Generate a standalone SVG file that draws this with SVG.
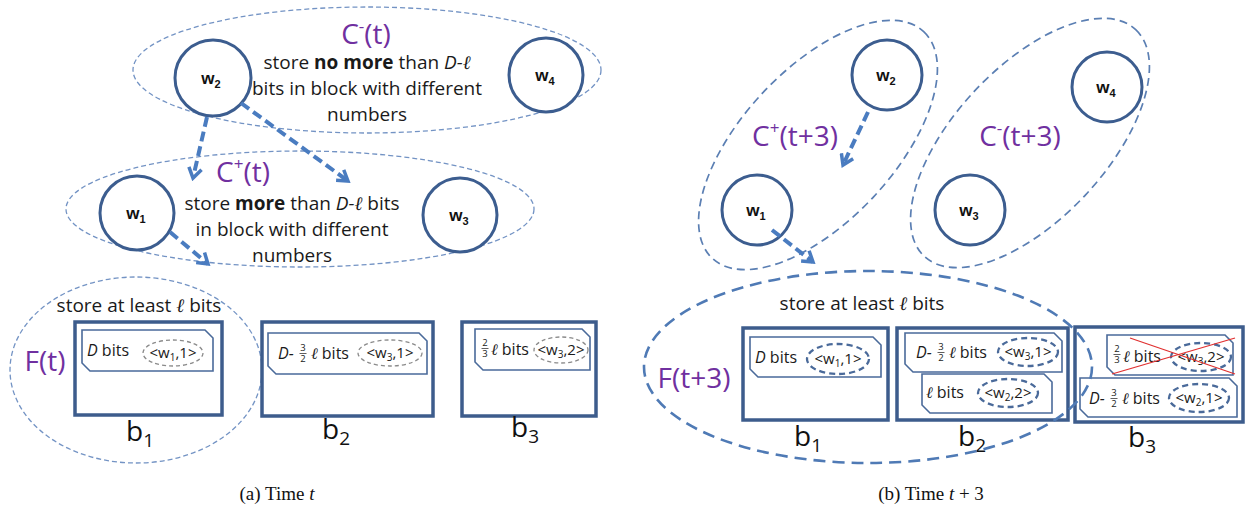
<svg xmlns="http://www.w3.org/2000/svg" width="1252" height="515" viewBox="0 0 1252 515">
  <defs>
    <style>
      .bg { fill: #ffffff; }
      .grp { fill: none; stroke: #7393c4; stroke-width: 1.3; stroke-dasharray: 5 3; }
      .grpR { fill: none; stroke: #5b7fb3; stroke-width: 1.7; stroke-dasharray: 8 5; }
      .grpF { fill: none; stroke: #4f7ab5; stroke-width: 2.6; stroke-dasharray: 12 7; }
      .node circle { fill: #ffffff; stroke: #3c5d8f; stroke-width: 3; }
      .nl { font-family: "Liberation Sans", Arial, sans-serif; font-weight: bold; font-size: 17px; fill: #111; text-anchor: middle; }
      .sub { font-size: 11px; }
      .pl { font-family: "Open Sans", "Liberation Sans", sans-serif; font-size: 28px; fill: #7030a0; text-anchor: middle; }
      .body { font-family: "Open Sans", "Liberation Sans", sans-serif; font-size: 19px; fill: #1a1a1a; text-anchor: middle; }
      .it { font-style: italic; }
      .ell { font-family: "Liberation Serif", "DejaVu Serif", serif; font-style: italic; }
      .block { fill: none; stroke: #3d5c8c; stroke-width: 3.5; }
      .tag { fill: #ffffff; stroke: #4a6a9a; stroke-width: 1.6; }
      .tg { font-family: "Open Sans", "Liberation Sans", sans-serif; font-size: 16px; fill: #1a1a1a; }
      .tgc { font-family: "Open Sans", "Liberation Sans", sans-serif; font-size: 15px; fill: #1a1a1a; text-anchor: middle; }
      .fn { font-family: "Open Sans", "Liberation Sans", sans-serif; font-size: 9.5px; fill: #1a1a1a; text-anchor: middle; }
      .fbar { stroke: #1a1a1a; stroke-width: 0.7; }
      .id { fill: none; stroke: #8a8a8a; stroke-width: 1.3; stroke-dasharray: 4 3; }
      .idR { fill: none; stroke: #4a6a9a; stroke-width: 2.3; stroke-dasharray: 6 4; }
      .bl { font-family: "Open Sans", "Liberation Sans", sans-serif; font-size: 28px; fill: #111; text-anchor: middle; }
      .bsub { font-size: 19px; }
      .cap { font-family: "Liberation Serif", "DejaVu Serif", serif; font-size: 19px; fill: #111; text-anchor: middle; }
      .conn path { fill: none; stroke: #4a7cc0; stroke-width: 4; stroke-dasharray: 10 5; }
      .cross { stroke: #e03030; stroke-width: 1.3; }
    </style>
    <marker id="vhead" viewBox="0 0 16 16" refX="13" refY="8" markerWidth="16" markerHeight="16" orient="auto" markerUnits="userSpaceOnUse">
      <polyline points="3,1.5 13,8 3,14.5" fill="none" stroke="#4a7cc0" stroke-width="3.5"/>
    </marker>
  </defs>

  <rect class="bg" x="0" y="0" width="1252" height="515"/>

  <!-- ===== panel (a): time t ===== -->
  <g id="group-cminus-t">
    <ellipse class="grp" cx="367" cy="70" rx="234" ry="63"/>
    <text class="pl" x="366" y="44">C<tspan font-size="17" dy="-12">-</tspan><tspan dy="12">(t)</tspan></text>
    <text class="body" x="367" y="69">store <tspan font-weight="bold">no more</tspan> than <tspan class="it">D-</tspan><tspan class="ell">ℓ</tspan></text>
    <text class="body" x="367" y="95">bits in block with different</text>
    <text class="body" x="367" y="121">numbers</text>
  </g>

  <g id="group-cplus-t">
    <ellipse class="grp" cx="300" cy="209" rx="234" ry="58"/>
    <text class="pl" x="243" y="182">C<tspan font-size="17" dy="-12">+</tspan><tspan dy="12">(t)</tspan></text>
    <text class="body" x="292" y="210">store <tspan font-weight="bold">more</tspan> than <tspan class="it">D-</tspan><tspan class="ell">ℓ</tspan> bits</text>
    <text class="body" x="292" y="236">in block with different</text>
    <text class="body" x="292" y="262">numbers</text>
  </g>

  <g id="group-f-t">
    <ellipse class="grp" cx="136" cy="370" rx="126" ry="93"/>
    <text class="body" x="139" y="312">store at least <tspan class="ell">ℓ</tspan> bits</text>
    <text class="pl" x="45" y="371">F(t)</text>
  </g>

  <g id="node-w2-a" class="node">
    <circle cx="213" cy="78" r="38"/>
    <text class="nl" x="211" y="84">w<tspan class="sub" dy="4">2</tspan></text>
  </g>
  <g id="node-w4-a" class="node">
    <circle cx="546" cy="75" r="37"/>
    <text class="nl" x="545" y="81">w<tspan class="sub" dy="4">4</tspan></text>
  </g>
  <g id="node-w1-a" class="node">
    <circle cx="137" cy="213" r="37"/>
    <text class="nl" x="136" y="219">w<tspan class="sub" dy="4">1</tspan></text>
  </g>
  <g id="node-w3-a" class="node">
    <circle cx="460" cy="215" r="37"/>
    <text class="nl" x="459" y="221">w<tspan class="sub" dy="4">3</tspan></text>
  </g>

  <!-- blocks at time t -->
  <g id="block-b1-a">
    <rect class="block" x="75" y="322" width="147" height="93"/>
    <polygon class="tag" points="82,330 205,330 213,338 213,371 90,371 82,363"/>
    <text class="tg" x="87" y="356"><tspan class="it">D</tspan> bits</text>
    <ellipse class="id" cx="173" cy="353" rx="30" ry="13"/>
    <text class="tgc" x="173" y="358">&lt;w<tspan font-size="10" dy="3">1</tspan><tspan dy="-3">,1&gt;</tspan></text>
    <text class="bl" x="140" y="441">b<tspan class="bsub" dy="6">1</tspan></text>
  </g>

  <g id="block-b2-a">
    <rect class="block" x="262" y="322" width="171" height="94"/>
    <polygon class="tag" points="268,333 419,333 427,341 427,374 276,374 268,366"/>
    <text class="tg it" x="278" y="359">D-</text>
    <text class="fn" x="303" y="351">3</text>
    <line class="fbar" x1="299.5" y1="353.5" x2="306.5" y2="353.5"/>
    <text class="fn" x="303" y="362">2</text>
    <text class="tg" x="311" y="359"><tspan class="ell">ℓ</tspan> bits</text>
    <ellipse class="id" cx="390" cy="353" rx="32" ry="13"/>
    <text class="tgc" x="390" y="358">&lt;w<tspan font-size="10" dy="3">3</tspan><tspan dy="-3">,1&gt;</tspan></text>
    <text class="bl" x="336" y="439">b<tspan class="bsub" dy="6">2</tspan></text>
  </g>

  <g id="block-b3-a">
    <rect class="block" x="462" y="322" width="134" height="94"/>
    <polygon class="tag" points="475,329 582,329 590,337 590,370 483,370 475,362"/>
    <text class="fn" x="485" y="346">2</text>
    <line class="fbar" x1="481.5" y1="348.5" x2="488.5" y2="348.5"/>
    <text class="fn" x="485" y="357">3</text>
    <text class="tg" x="491" y="355"><tspan class="ell">ℓ</tspan> bits</text>
    <ellipse class="id" cx="561" cy="350" rx="27" ry="13"/>
    <text class="tgc" x="561" y="355">&lt;w<tspan font-size="10" dy="3">3</tspan><tspan dy="-3">,2&gt;</tspan></text>
    <text class="bl" x="525" y="437">b<tspan class="bsub" dy="6">3</tspan></text>
  </g>

  <!-- ===== panel (b): time t+3 ===== -->
  <g id="group-cplus-t3">
    <ellipse class="grpR" cx="818" cy="145" rx="155" ry="76" transform="rotate(-47 818 145)"/>
    <text class="pl" x="795" y="146">C<tspan font-size="17" dy="-12">+</tspan><tspan dy="12">(t+3)</tspan></text>
  </g>
  <g id="group-cminus-t3">
    <ellipse class="grpR" cx="1030" cy="143" rx="155" ry="76" transform="rotate(-47 1030 143)"/>
    <text class="pl" x="1020" y="146">C<tspan font-size="17" dy="-12">-</tspan><tspan dy="12">(t+3)</tspan></text>
  </g>

  <g id="node-w2-b" class="node">
    <circle cx="887" cy="75" r="35"/>
    <text class="nl" x="886" y="81">w<tspan class="sub" dy="4">2</tspan></text>
  </g>
  <g id="node-w4-b" class="node">
    <circle cx="1107" cy="87" r="35"/>
    <text class="nl" x="1106" y="93">w<tspan class="sub" dy="4">4</tspan></text>
  </g>
  <g id="node-w1-b" class="node">
    <circle cx="757" cy="210" r="35"/>
    <text class="nl" x="756" y="216">w<tspan class="sub" dy="4">1</tspan></text>
  </g>
  <g id="node-w3-b" class="node">
    <circle cx="970" cy="210" r="35"/>
    <text class="nl" x="969" y="216">w<tspan class="sub" dy="4">3</tspan></text>
  </g>

  <!-- blocks at time t+3 -->
  <g id="block-b1-b">
    <rect class="block" x="743" y="328" width="145" height="92"/>
    <polygon class="tag" points="750,337 873,337 881,345 881,377 758,377 750,369"/>
    <text class="tg" x="755" y="363"><tspan class="it">D</tspan> bits</text>
    <ellipse class="idR" cx="838" cy="359" rx="31" ry="15"/>
    <text class="tgc" x="838" y="364">&lt;w<tspan font-size="10" dy="3">1</tspan><tspan dy="-3">,1&gt;</tspan></text>
    <text class="bl" x="808" y="446">b<tspan class="bsub" dy="6">1</tspan></text>
  </g>

  <g id="block-b2-b">
    <rect class="block" x="897" y="328" width="171" height="92"/>
    <polygon class="tag" points="905,333 1054,333 1062,341 1062,372 913,372 905,364"/>
    <text class="tg it" x="916" y="358">D-</text>
    <text class="fn" x="941" y="350">3</text>
    <line class="fbar" x1="937.5" y1="352.5" x2="944.5" y2="352.5"/>
    <text class="fn" x="941" y="361">2</text>
    <text class="tg" x="949" y="358"><tspan class="ell">ℓ</tspan> bits</text>
    <ellipse class="idR" cx="1028" cy="352" rx="30" ry="14"/>
    <text class="tgc" x="1028" y="357">&lt;w<tspan font-size="10" dy="3">3</tspan><tspan dy="-3">,1&gt;</tspan></text>
    <polygon class="tag" points="922,374 1044,374 1052,382 1052,413 930,413 922,405"/>
    <text class="tg" x="926" y="398"><tspan class="ell">ℓ</tspan> bits</text>
    <ellipse class="idR" cx="1008" cy="393" rx="30" ry="14"/>
    <text class="tgc" x="1008" y="398">&lt;w<tspan font-size="10" dy="3">2</tspan><tspan dy="-3">,2&gt;</tspan></text>
    <text class="bl" x="972" y="446">b<tspan class="bsub" dy="6">2</tspan></text>
  </g>

  <g id="block-b3-b">
    <rect class="block" x="1075" y="327" width="168" height="95"/>
    <polygon class="tag" points="1107,335 1225,335 1233,343 1233,375 1115,375 1107,367"/>
    <text class="fn" x="1117" y="352">2</text>
    <line class="fbar" x1="1113.5" y1="354.5" x2="1120.5" y2="354.5"/>
    <text class="fn" x="1117" y="363">3</text>
    <text class="tg" x="1123" y="362"><tspan class="ell">ℓ</tspan> bits</text>
    <ellipse class="idR" cx="1201" cy="357" rx="30" ry="14"/>
    <text class="tgc" x="1201" y="362">&lt;w<tspan font-size="10" dy="3">3</tspan><tspan dy="-3">,2&gt;</tspan></text>
    <line class="cross" x1="1112" y1="374" x2="1235" y2="338"/>
    <line class="cross" x1="1130" y1="338" x2="1235" y2="374"/>
    <polygon class="tag" points="1080,378 1229,378 1237,386 1237,417 1088,417 1080,409"/>
    <text class="tg it" x="1089" y="404">D-</text>
    <text class="fn" x="1114" y="396">3</text>
    <line class="fbar" x1="1110.5" y1="398.5" x2="1117.5" y2="398.5"/>
    <text class="fn" x="1114" y="407">2</text>
    <text class="tg" x="1122" y="404"><tspan class="ell">ℓ</tspan> bits</text>
    <ellipse class="idR" cx="1199" cy="398" rx="30" ry="14"/>
    <text class="tgc" x="1199" y="403">&lt;w<tspan font-size="10" dy="3">2</tspan><tspan dy="-3">,1&gt;</tspan></text>
    <text class="bl" x="1142" y="447">b<tspan class="bsub" dy="6">3</tspan></text>
  </g>

  <g id="group-f-t3">
    <ellipse class="grpF" cx="868" cy="367" rx="224" ry="96"/>
    <text class="body" x="862" y="310">store at least <tspan class="ell">ℓ</tspan> bits</text>
    <text class="pl" x="694" y="388">F(t+3)</text>
  </g>

  <!-- movement arrows -->
  <g id="connectors" class="conn">
    <path d="M207,117 L193,178" marker-end="url(#vhead)"/>
    <path d="M241,103 L348,181" marker-end="url(#vhead)"/>
    <path d="M170,232 L208,264" marker-end="url(#vhead)"/>
    <path d="M868,112 L843,165" marker-end="url(#vhead)"/>
    <path d="M772,230 L813,262" marker-end="url(#vhead)"/>
  </g>

  <!-- captions -->
  <text class="cap" x="277" y="500">(a) Time <tspan font-style="italic">t</tspan></text>
  <text class="cap" x="931" y="500">(b) Time <tspan font-style="italic">t</tspan> + 3</text>
</svg>
